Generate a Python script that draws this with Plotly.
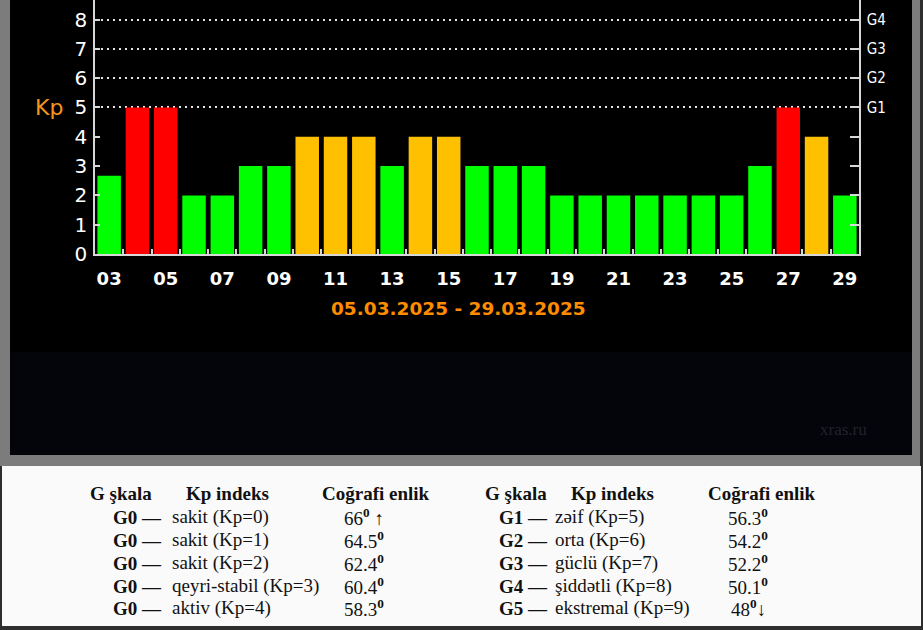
import plotly.graph_objects as go

W, H = 923, 630

# ---------------- data ----------------
days = list(range(3, 30))
kp_values = [2.67, 5, 5, 2, 2, 3, 3, 4, 4, 4, 3, 4, 4, 3, 3, 3,
             2, 2, 2, 2, 2, 2, 2, 3, 5, 4, 2]
xtick_days = list(range(3, 30, 2))
xtick_labels = ["%02d" % d for d in xtick_days]
y_ticks = list(range(0, 9))
g_levels = [5, 6, 7, 8]
g_labels = ["G1", "G2", "G3", "G4"]
date_title = "05.03.2025 - 29.03.2025"

headers = ["G şkala", "Kp indeks", "Coğrafi enlik"]
left_g = ["G0 —", "G0 —", "G0 —", "G0 —", "G0 —"]
left_desc = ["sakit (Kp=0)", "sakit (Kp=1)", "sakit (Kp=2)",
             "qeyri-stabil (Kp=3)", "aktiv (Kp=4)"]
left_lat = ["66<sup><b>0</b></sup> ↑", "64.5<sup><b>0</b></sup>", "62.4<sup><b>0</b></sup>",
            "60.4<sup><b>0</b></sup>", "58.3<sup><b>0</b></sup>"]
right_g = ["G1 —", "G2 —", "G3 —", "G4 —", "G5 —"]
right_desc = ["zəif (Kp=5)", "orta (Kp=6)", "güclü (Kp=7)",
              "şiddətli (Kp=8)", "ekstremal (Kp=9)"]
right_lat = ["56.3<sup><b>0</b></sup>", "54.2<sup><b>0</b></sup>", "52.2<sup><b>0</b></sup>",
             "50.1<sup><b>0</b></sup>", "48<sup><b>0</b></sup>↓"]


def color_for(v):
    if v >= 5:
        return "#FF0000"
    if v >= 4:
        return "#FFC000"
    return "#00FF00"


bar_colors = [color_for(v) for v in kp_values]


def px(x):
    return x / W


def py(y):
    return 1 - y / H


YMAX = 254 / 29.31
AXC = "#d8d8d8"

fig = go.Figure()
fig.add_trace(go.Bar(x=days, y=kp_values, marker=dict(color=bar_colors, line=dict(width=0)),
                     hoverinfo="skip", showlegend=False))
# empty helper trace so the right-hand G-scale axis is a real subplot
fig.add_trace(go.Scatter(x=[], y=[], yaxis="y2", hoverinfo="skip", showlegend=False))

fig.update_layout(
    width=W, height=H,
    margin=dict(l=0, r=0, t=0, b=0, autoexpand=False),
    paper_bgcolor="#2e2e2e",
    plot_bgcolor="rgba(0,0,0,0)",
    bargap=0.17,
    showlegend=False,
    xaxis=dict(
        domain=[px(95), px(859)], range=[2.5, 29.5], anchor="y",
        tickmode="array", tickvals=xtick_days, ticktext=xtick_labels,
        ticks="", showgrid=False, zeroline=False,
        showline=True, linecolor=AXC, linewidth=2,
        tickfont=dict(family="DejaVu Sans", size=18, color="white", weight="bold"),
        ticklabelstandoff=7, automargin=False,
        minor=dict(tickmode="array", tickvals=[d + 0.5 for d in days[:-1]],
                   ticks="inside", ticklen=5, tickcolor=AXC, tickwidth=1.5, showgrid=False),
        fixedrange=True,
    ),
    yaxis=dict(
        domain=[py(254), 1], range=[0, YMAX], anchor="x", side="left",
        tickmode="array", tickvals=y_ticks, ticks="inside", ticklen=5,
        tickcolor=AXC, tickwidth=1.5,
        showgrid=False, zeroline=False, showline=True, linecolor=AXC, linewidth=1.5,
        tickfont=dict(family="DejaVu Sans", size=20, color="white"),
        ticklabelstandoff=2, automargin=False,
        fixedrange=True,
    ),
    yaxis2=dict(
        overlaying="y", side="right", anchor="x", range=[0, YMAX],
        tickmode="array", tickvals=g_levels, ticktext=g_labels,
        ticks="inside", ticklen=9, tickcolor=AXC, tickwidth=1.5,
        showgrid=True, gridcolor="#e6e6e6", gridwidth=1.5, griddash="2px,4px",
        minor=dict(tickmode="array", tickvals=[0, 1, 2, 3, 4], ticks="inside", ticklen=9,
                   tickcolor=AXC, tickwidth=1.5, showgrid=False),
        zeroline=False, showline=True, linecolor=AXC, linewidth=1.5,
        tickfont=dict(family="DejaVu Sans Condensed, DejaVu Sans", size=15, color="white"),
        ticklabelstandoff=3, automargin=False,
        fixedrange=True,
    ),
)

# background panels
shapes = [
    dict(type="rect", xref="paper", yref="paper", x0=0, x1=px(920), y0=py(466), y1=1,
         fillcolor="#7c7c7c", line=dict(width=0), layer="below"),
    dict(type="rect", xref="paper", yref="paper", x0=px(10), x1=px(912), y0=py(455), y1=1,
         fillcolor="#000000", line=dict(width=0), layer="below"),
    dict(type="rect", xref="paper", yref="paper", x0=px(10), x1=px(912), y0=py(455), y1=py(352),
         fillcolor="#04040b", line=dict(width=0), layer="below"),
    dict(type="rect", xref="paper", yref="paper", x0=px(2), x1=px(921), y0=py(626), y1=py(466),
         fillcolor="#fafafa", line=dict(width=0), layer="below"),
]
fig.update_layout(shapes=shapes)

ann = []
ann.append(dict(text="Kp", x=px(49), y=py(107), xref="paper", yref="paper", showarrow=False,
                xanchor="center", yanchor="middle",
                font=dict(family="DejaVu Sans", size=22, color="#F7941D")))
ann.append(dict(text="<b>%s</b>" % date_title, x=px(458), y=py(308), xref="paper", yref="paper",
                showarrow=False, xanchor="center", yanchor="middle",
                font=dict(family="DejaVu Sans", size=18.5, color="#FF8C00")))
ann.append(dict(text="xras.ru", x=px(843), y=py(429), xref="paper", yref="paper", showarrow=False,
                xanchor="center", yanchor="middle",
                font=dict(family="Liberation Serif", size=17, color="#22222b")))

serif = "Liberation Serif"
TXT = "#111111"
# headers
for hx_list in ([88, 184, 320], [483, 569, 706]):
    for hx, h in zip(hx_list, headers):
        ann.append(dict(text="<b>%s</b>" % h, x=px(hx), y=py(493), xref="paper", yref="paper",
                        showarrow=False, xanchor="left", yanchor="middle",
                        font=dict(family=serif, size=19, color=TXT)))

row_y = [517, 540, 563, 586, 608]
for i, ry in enumerate(row_y):
    for gx, dx, lx, g, d, l in ((111, 170, 364, left_g[i], left_desc[i], left_lat[i]),
                                (497, 553, 748, right_g[i], right_desc[i], right_lat[i])):
        ann.append(dict(text="<b>%s</b>" % g, x=px(gx), y=py(ry), xref="paper", yref="paper",
                        showarrow=False, xanchor="left", yanchor="middle",
                        font=dict(family=serif, size=19, color=TXT)))
        ann.append(dict(text=d, x=px(dx), y=py(ry), xref="paper", yref="paper",
                        showarrow=False, xanchor="left", yanchor="middle",
                        font=dict(family=serif, size=19, color=TXT)))
        ann.append(dict(text=l, x=px(lx), y=py(ry), xref="paper", yref="paper",
                        showarrow=False, xanchor="center", yanchor="middle",
                        font=dict(family=serif, size=19, color=TXT)))

fig.update_layout(annotations=ann)

fig.write_html("out.html")
